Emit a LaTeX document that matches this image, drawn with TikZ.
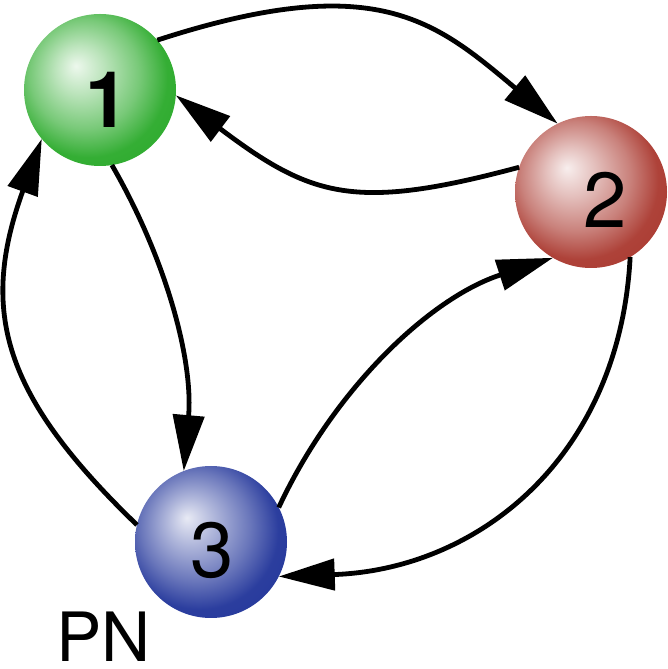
\documentclass[tikz,border=0pt]{standalone}
\usepackage{fontspec}
\setmainfont{TeX Gyre Heros}
\usetikzlibrary{arrows.meta}
\definecolor{ballG}{RGB}{30,165,30}
\definecolor{ballR}{RGB}{165,45,35}
\definecolor{ballB}{RGB}{25,45,150}
\pgfdeclareradialshading{shG}{\pgfpoint{-8bp}{8bp}}{color(0bp)=(ballG!8!white); color(8bp)=(ballG!30!white); color(18bp)=(ballG!60!white); color(26bp)=(ballG!90!white); color(50bp)=(ballG)}
\pgfdeclareradialshading{shR}{\pgfpoint{-8bp}{8bp}}{color(0bp)=(ballR!8!white); color(8bp)=(ballR!30!white); color(18bp)=(ballR!60!white); color(26bp)=(ballR!90!white); color(50bp)=(ballR)}
\pgfdeclareradialshading{shB}{\pgfpoint{-8bp}{8bp}}{color(0bp)=(ballB!10!white); color(8bp)=(ballB!35!white); color(18bp)=(ballB!65!white); color(26bp)=(ballB!92!white); color(50bp)=(ballB)}
\begin{document}
\begin{tikzpicture}[x=1pt,y=1pt,
 ball/.style={circle,minimum size=152pt,inner sep=0pt,outer sep=0pt},
 digit/.style={font=\fontsize{78}{80}\selectfont,inner sep=0pt,anchor=base},
 link/.style={line width=4.8pt,-{Triangle[length=56pt,width=31pt]}}]
\useasboundingbox (0,0) rectangle (667,669);
\node[ball,shading=shG] (n1) at (100,579) {};
\node[ball,shading=shR] (n2) at (591,477) {};
\node[ball,shading=shB] (n3) at (211,127) {};
\node[digit,font=\fontsize{78}{80}\selectfont\bfseries] (d1) at (107,541) {1};
\node[digit] (d2) at (605,441) {2};
\node[digit] (d3) at (212,91) {3};
\node[font=\fontsize{68}{70}\selectfont,inner sep=0pt,anchor=base west] (pn) at (56,8) {PN};
\draw[link] (n1.41) .. controls +(18:230) and +(140:160) .. (n2.116);
\draw[link] (n2.161) .. controls +(195:170) and +(-37:170) .. (n1.356);
\draw[link] (n1.279) .. controls +(-60:110) and +(85:110) .. (n3.111);
\draw[link] (n3.167) .. controls +(136:185) and +(250:185) .. (n1.220);
\draw[link] (n3.27) .. controls +(65:130) and +(198:130) .. (n2.240);
\draw[link] (n2.301) .. controls +(267:200) and +(2:200) .. (n3.333);
\end{tikzpicture}
\end{document}
